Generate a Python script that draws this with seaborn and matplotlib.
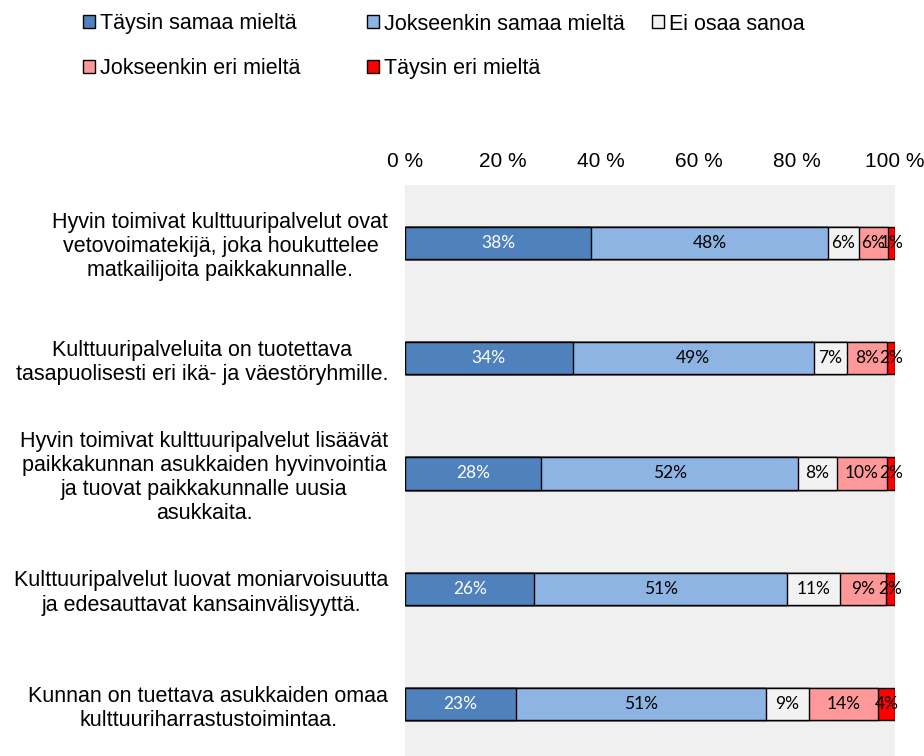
import numpy as np
import pandas as pd
import matplotlib
matplotlib.use("Agg")
import matplotlib.pyplot as plt
import seaborn as sns

categories = [
    "Hyvin toimivat kulttuuripalvelut ovat\nvetovoimatekijä, joka houkuttelee\nmatkailijoita paikkakunnalle.",
    "Kulttuuripalveluita on tuotettava\ntasapuolisesti eri ikä- ja väestöryhmille.",
    "Hyvin toimivat kulttuuripalvelut lisäävät\npaikkakunnan asukkaiden hyvinvointia\nja tuovat paikkakunnalle uusia\nasukkaita.",
    "Kulttuuripalvelut luovat moniarvoisuutta\nja edesauttavat kansainvälisyyttä.",
    "Kunnan on tuettava asukkaiden omaa\nkulttuuriharrastustoimintaa.",
]
series_names = ["Täysin samaa mieltä", "Jokseenkin samaa mieltä", "Ei osaa sanoa",
                "Jokseenkin eri mieltä", "Täysin eri mieltä"]
taysin_samaa = [38.0, 34.2, 27.8, 26.4, 22.7]
jokseenkin_samaa = [48.3, 49.2, 52.4, 51.5, 50.9]
ei_osaa = [6.3, 6.9, 7.9, 10.8, 8.8]
jokseenkin_eri = [6.0, 8.1, 10.3, 9.4, 14.1]
taysin_eri = [1.4, 1.6, 1.6, 1.9, 3.5]
value_labels = [
    ["38%", "34%", "28%", "26%", "23%"],
    ["48%", "49%", "52%", "51%", "51%"],
    ["6%", "7%", "8%", "11%", "9%"],
    ["6%", "8%", "10%", "9%", "14%"],
    ["1%", "2%", "2%", "2%", "4%"],
]
x_ticks = [0, 20, 40, 60, 80, 100]
x_tick_labels = ["0 %", "20 %", "40 %", "60 %", "80 %", "100 %"]

colors = ["#4F81BD", "#8EB4E3", "#F2F2F2", "#FF9999", "#FF0000"]
label_colors = ["white", "black", "black", "black", "black"]

sns.set_theme(style="white")
plt.rcParams["font.family"] = ["Liberation Sans", "DejaVu Sans"]
plt.rcParams["text.color"] = "black"
plt.rcParams["xtick.color"] = "black"
plt.rcParams["ytick.color"] = "black"

series = [taysin_samaa, jokseenkin_samaa, ei_osaa, jokseenkin_eri, taysin_eri]
vals = np.array(series)
cum = np.cumsum(vals, axis=0)
starts = cum - vals

fig = plt.figure(figsize=(9.24, 7.56), dpi=100)
ax = fig.add_axes([405 / 924, 1 - 762 / 756, 490 / 924, 577 / 756])
ax.set_facecolor("#F0F0F0")

for i in range(len(series) - 1, -1, -1):
    df = pd.DataFrame({"cat": categories, "val": cum[i]})
    sns.barplot(data=df, x="val", y="cat", orient="h", color=colors[i],
                width=0.28, edgecolor="black", linewidth=1.0,
                saturation=1, ax=ax, label=series_names[i])

for i in range(len(series)):
    for j in range(len(categories)):
        ax.text(starts[i][j] + vals[i][j] / 2, j, value_labels[i][j],
                ha="center", va="center", fontsize=12.5, color=label_colors[i],
                family=["Lato", "DejaVu Sans"])

ax.set_xlim(0, 100)
ax.set_ylim(4.5, -0.5)
ax.xaxis.tick_top()
ax.set_xticks(x_ticks)
ax.set_xticklabels(x_tick_labels, fontsize=15)
ax.tick_params(axis="x", length=0, pad=10, colors="black")
ax.tick_params(axis="y", length=0, pad=12, colors="black")
for lab in ax.get_yticklabels():
    lab.set_fontsize(15.5)
    lab.set_multialignment("center")
ax.set_xlabel("")
ax.set_ylabel("")
for s in ax.spines.values():
    s.set_visible(False)

# legend in columns
handles, labels = ax.get_legend_handles_labels()
hmap = dict(zip(labels, handles))
if ax.get_legend():
    ax.get_legend().remove()
columns = [[0, 3], [1, 4], [2]]
col_x = [83 / 924, 367 / 924, 652 / 924]
for cx, col in zip(col_x, columns):
    leg = fig.legend([hmap[series_names[k]] for k in col],
                     [series_names[k] for k in col],
                     loc="upper left", bbox_to_anchor=(cx, 1 - 13.5 / 756),
                     frameon=False, ncol=1, handlelength=0.55, handleheight=0.55,
                     handletextpad=0.22, labelspacing=1.09, borderpad=0, borderaxespad=0,
                     prop={"size": 15.5})
    for t in leg.get_texts():
        t.set_color("black")

fig.savefig("out.png", dpi=100)
